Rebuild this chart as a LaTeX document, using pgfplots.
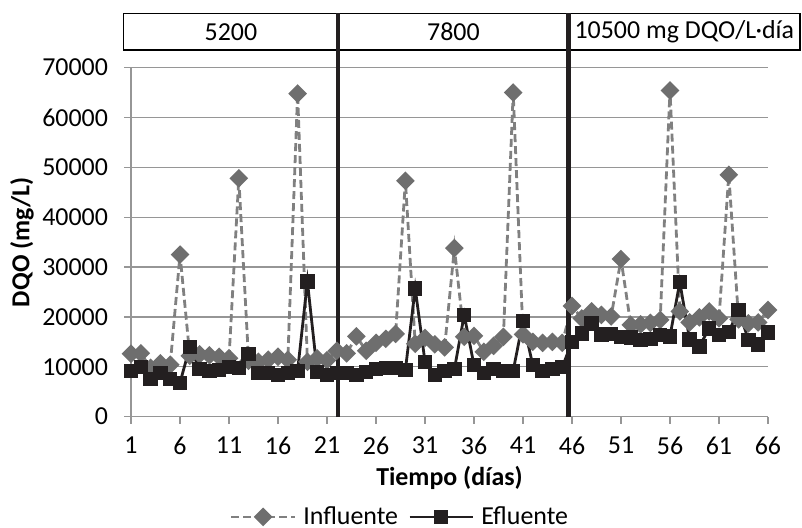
\documentclass[border=0pt]{standalone}
\usepackage{fontspec}
\setmainfont{Carlito}
\usepackage{pgfplots}
\pgfplotsset{compat=1.18}

\definecolor{infl}{RGB}{110,110,110}
\definecolor{infdash}{RGB}{128,128,128}
\definecolor{efl}{RGB}{35,31,32}
\definecolor{grd}{RGB}{150,150,150}

\newcommand{\chartfont}{\fontsize{13}{15}\selectfont}

% DQO en mg/L por dia
\pgfplotstableread{
dia inf efl
1 12600 9200
2 12700 10000
3 9800 7600
4 10700 8800
5 10400 7600
6 32500 6800
7 12200 14000
8 12500 9500
9 12300 9200
10 12000 9400
11 11700 10000
12 47800 9700
13 11200 12600
14 11000 8800
15 11400 8700
16 12000 8400
17 11400 8700
18 64800 9200
19 11000 27100
20 11700 9000
21 11300 8400
22 13200 8800
23 12700 8700
24 16100 8400
25 13200 9000
26 14800 9500
27 15600 9800
28 16600 9700
29 47300 9400
30 14600 25700
31 15800 11000
32 14500 8400
33 13900 9200
34 33800 9500
35 16000 20400
36 16200 10300
37 13000 8800
38 14200 9500
39 16000 9100
40 65000 9200
41 16500 19200
42 15000 10300
43 14800 9100
44 15000 9600
45 14800 9900
46 22200 15000
47 19700 16700
48 21100 18700
49 20400 16500
50 20100 16600
51 31600 16000
52 18400 15900
53 18500 15400
54 18800 15600
55 19400 16400
56 65400 16100
57 21100 27000
58 18900 15500
59 19900 14100
60 21100 17700
61 19700 16400
62 48500 17000
63 19500 21400
64 18700 15400
65 18900 14500
66 21400 16900
}\datos

\begin{document}
\begin{tikzpicture}
\begin{axis}[
  scale only axis,
  width=318.5bp, height=174.5bp,
  xmin=1, xmax=66, ymin=0, ymax=70000,
  axis x line*=bottom, axis y line*=left,
  axis line style={grd, line width=0.6bp},
  xtick={1,6,...,66},
  ytick={0,10000,...,70000},
  tick align=outside,
  major tick length=3.5bp,
  tick style={grd, line width=0.6bp},
  ymajorgrids,
  grid style={grd, line width=0.6bp},
  scaled y ticks=false,
  /pgf/number format/assume math mode=true,
  yticklabel style={/pgf/number format/fixed, /pgf/number format/1000 sep={}, xshift=-4.5bp},
  xticklabel style={yshift=-3bp},
  ticklabel style={font=\chartfont},
  xlabel={\textbf{Tiempo (días)}},
  ylabel={\textbf{DQO (mg/L)}},
  xlabel style={at={(axis description cs:0.5,-0.1748)}, anchor=center, font=\chartfont},
  ylabel style={at={(axis description cs:-0.1711,0.5)}, anchor=center, font=\chartfont},
  clip=false,
  legend style={at={(axis description cs:0.4239,-0.2874)}, anchor=center,
    draw=none, fill=none, font=\chartfont, legend columns=2,
    /tikz/every odd column/.append style={column sep=1.5bp},
    /tikz/every even column/.append style={column sep=3bp}},
  legend image code/.code={%
    \draw[mark repeat=2, mark phase=2, #1] plot coordinates {(0cm,0cm) (0.56cm,0cm) (1.12cm,0cm)};},
]
\addplot[infdash, line width=1.4bp, dash pattern=on 4bp off 2bp,
  mark=square*, mark size=2.6bp,
  mark options={solid, fill=infl, draw=infl, rotate=45}]
  table[x=dia, y=inf] {\datos};
\addplot[efl, line width=1.4bp, mark=square*, mark size=2.9bp,
  mark options={solid, fill=efl, draw=efl}]
  table[x=dia, y=efl] {\datos};
\legend{Influente, Efluente}

% cabecera con las cargas organicas
\draw[black, line width=0.75bp] (axis cs:0.235,73500) rectangle (axis cs:69.26,80900);
\draw[efl, line width=2.2bp] (axis cs:22.15,0) -- (axis cs:22.15,80900);
\draw[efl, line width=2.2bp] (axis cs:45.65,0) -- (axis cs:45.65,80900);
\node[font=\chartfont] at (axis cs:11.19,77200) {5200};
\node[font=\chartfont] at (axis cs:33.9,77200) {7800};
\node[font=\chartfont] at (axis cs:57.46,77200) {10500 mg DQO/L·día};

\coordinate (bbl) at (axis cs:-12.37,-22320);
\coordinate (btr) at (axis cs:69.47,83570);
\end{axis}
\pgfresetboundingbox
\path[use as bounding box] (bbl) rectangle (btr);
\end{tikzpicture}
\end{document}
